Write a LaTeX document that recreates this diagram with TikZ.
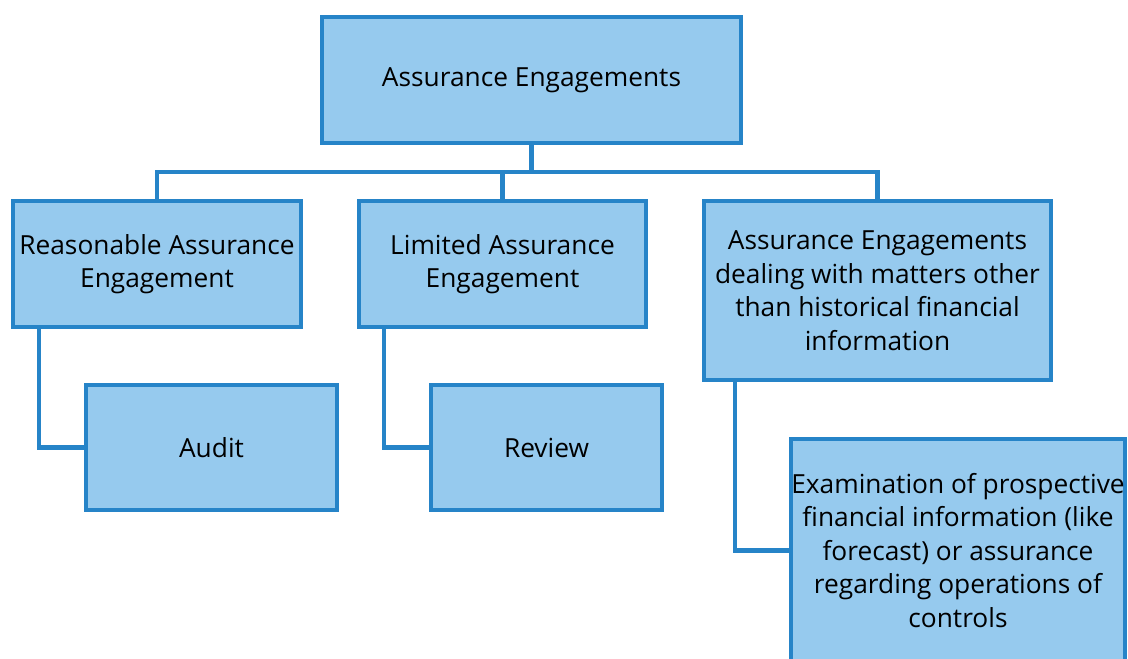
\documentclass[tikz,border=0pt]{standalone}
\usepackage{fontspec}
\setmainfont{Open Sans}
\definecolor{boxfill}{RGB}{150,202,238}
\definecolor{boxline}{RGB}{38,132,200}
\begin{document}
\begin{tikzpicture}[x=1pt,y=-1pt,
  box/.style={draw=boxline,fill=boxfill,line width=4pt,rectangle,inner sep=0pt,
    align=center,font=\fontsize{26.3}{33.5}\selectfont,text=black},
  conn/.style={draw=boxline,line width=4.5pt,line join=miter}]
\useasboundingbox (0,0) rectangle (1128,659);
\clip (0,0) rectangle (1128,659);
\node[box,minimum width=419pt,minimum height=126pt] (top) at (531.5,80) {Assurance Engagements};
\node[box,minimum width=288pt,minimum height=126pt] (reas) at (157,264) {Reasonable Assurance\\Engagement};
\node[box,minimum width=287pt,minimum height=126pt] (lim) at (502.5,264) {Limited Assurance\\Engagement};
\node[box,minimum width=347pt,minimum height=179pt] (other) at (877.5,290.5) {Assurance Engagements\\dealing with matters other\\than historical financial\\information};
\node[box,minimum width=251pt,minimum height=125pt] (audit) at (211.5,447.5) {Audit};
\node[box,minimum width=231pt,minimum height=125pt] (review) at (546.5,447.5) {Review};
\node[box,minimum width=334pt,minimum height=223pt] (exam) at (958,550.5) {Examination of prospective\\financial information (like\\forecast) or assurance\\regarding operations of\\controls};
\coordinate (bus) at (531.5,172);
\draw[conn] (top.south) -- (bus);
\draw[conn] (reas.north) |- (bus) -| (other.north);
\draw[conn] (lim.north) -- (lim.north |- bus);
\draw[conn] ([xshift=28pt]reas.south west) |- (audit.west);
\draw[conn] ([xshift=27pt]lim.south west) |- (review.west);
\draw[conn] ([xshift=33pt]other.south west) |- (exam.west);
\end{tikzpicture}
\end{document}
